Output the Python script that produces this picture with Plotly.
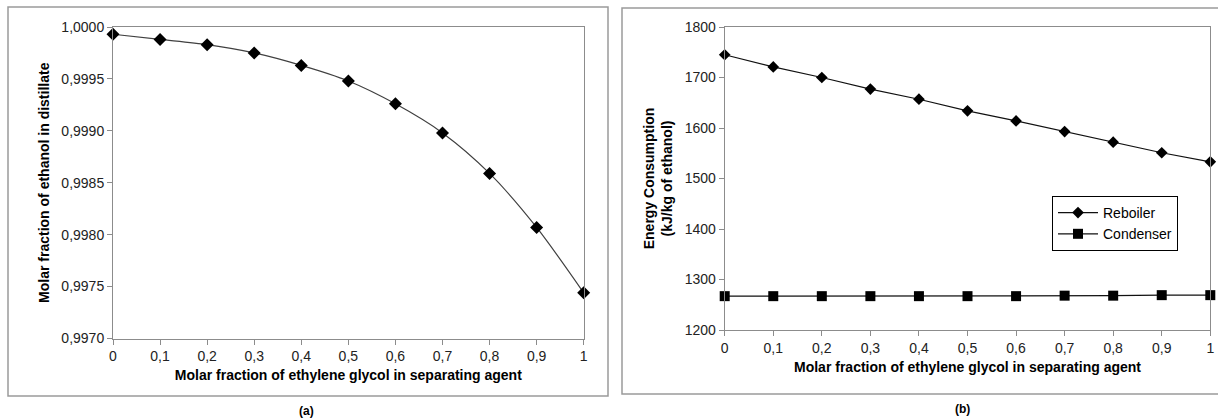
import plotly.graph_objects as go

W, H = 1218, 419

# ---- data ----
x_frac = [0, 0.1, 0.2, 0.3, 0.4, 0.5, 0.6, 0.7, 0.8, 0.9, 1.0]
ethanol_purity = [0.99993, 0.99988, 0.99983, 0.99975, 0.99963, 0.99948,
                  0.99926, 0.99898, 0.99859, 0.99807, 0.99744]
reboiler = [1745, 1721, 1700, 1677, 1657, 1634, 1614, 1593, 1572, 1551, 1533]
condenser = [1267, 1267, 1267, 1267, 1267, 1267, 1267, 1268, 1268, 1269, 1269]

xlabel = "Molar fraction of ethylene glycol in separating agent"
ylabel_a = "Molar fraction of ethanol in distillate"
ylabel_b = "Energy Consumption<br>(kJ/kg of ethanol)"

FONT = "Liberation Sans, Arial, sans-serif"


def px_x(p):
    return p / W


def px_y(p):
    return 1 - p / H


fig = go.Figure()

fig.add_trace(go.Scatter(
    x=x_frac, y=ethanol_purity, mode="lines+markers",
    line=dict(color="#404040", width=1.2, shape="spline", smoothing=0.8),
    marker=dict(symbol="diamond", size=10, color="black"),
    cliponaxis=False, showlegend=False, xaxis="x", yaxis="y"))

fig.add_trace(go.Scatter(
    x=x_frac, y=reboiler, mode="lines+markers", name="Reboiler",
    line=dict(color="#111", width=1.2),
    marker=dict(symbol="diamond", size=9, color="black"),
    cliponaxis=False, xaxis="x2", yaxis="y2"))

fig.add_trace(go.Scatter(
    x=x_frac, y=condenser, mode="lines+markers", name="Condenser",
    line=dict(color="#111", width=1.2),
    marker=dict(symbol="square", size=10, color="black"),
    cliponaxis=False, xaxis="x2", yaxis="y2"))

axis_common = dict(showgrid=False, zeroline=False, showline=True, mirror=True,
                   automargin=False,
                   linecolor="#8c8c8c", linewidth=1, ticks="outside",
                   ticklen=5, tickcolor="#8c8c8c",
                   tickfont=dict(family=FONT, size=14, color="#222"))

title_font = dict(family=FONT, size=14, color="black", weight="bold")

fig.update_layout(
    template="none",
    width=W, height=H,
    margin=dict(l=0, r=0, t=0, b=0, pad=0),
    paper_bgcolor="white", plot_bgcolor="white",
    separators=", ",
    font=dict(family=FONT, size=14, color="black"),
    xaxis=dict(domain=[px_x(113), px_x(583.7)], range=[0, 1], dtick=0.1,
               anchor="y",
               title=dict(text=xlabel, font=title_font, standoff=6),
               **axis_common),
    yaxis=dict(domain=[px_y(338.5), px_y(27)], range=[0.997, 1.0],
               dtick=0.0005, tickformat=".4f", anchor="x",
               title=dict(text=ylabel_a, font=title_font, standoff=8),
               **axis_common),
    xaxis2=dict(domain=[px_x(724.7), px_x(1210.3)], range=[0, 1], dtick=0.1,
                anchor="y2",
                title=dict(text=xlabel, font=title_font, standoff=7),
                **axis_common),
    yaxis2=dict(domain=[px_y(330), px_y(27)], range=[1200, 1800],
                dtick=100, anchor="x2",
                title=dict(text=ylabel_b, font=title_font, standoff=8),
                **axis_common),
    legend=dict(x=px_x(1052), y=px_y(196), xanchor="left", yanchor="top",
                bgcolor="white", bordercolor="black", borderwidth=1,
                font=dict(family=FONT, size=14, color="black"),
                tracegroupgap=0, itemwidth=40),
    shapes=[
        dict(type="rect", xref="paper", yref="paper",
             x0=px_x(8), x1=px_x(608), y0=px_y(396), y1=px_y(7),
             line=dict(color="#9a9a9a", width=1.5)),
        dict(type="rect", xref="paper", yref="paper",
             x0=px_x(622), x1=px_x(1230), y0=px_y(394), y1=px_y(8),
             line=dict(color="#9a9a9a", width=1.5)),
    ],
    annotations=[
        dict(text="<b>(a)</b>", x=px_x(306), y=px_y(411), xref="paper",
             yref="paper", xanchor="center", yanchor="middle",
             showarrow=False, font=dict(family=FONT, size=12)),
        dict(text="<b>(b)</b>", x=px_x(962), y=px_y(409), xref="paper",
             yref="paper", xanchor="center", yanchor="middle",
             showarrow=False, font=dict(family=FONT, size=12)),
    ],
)

fig.write_html(
    "out.html",
    config={"displayModeBar": False},
    post_script="document.body.style.margin='0';document.body.style.overflow='hidden';",
)
